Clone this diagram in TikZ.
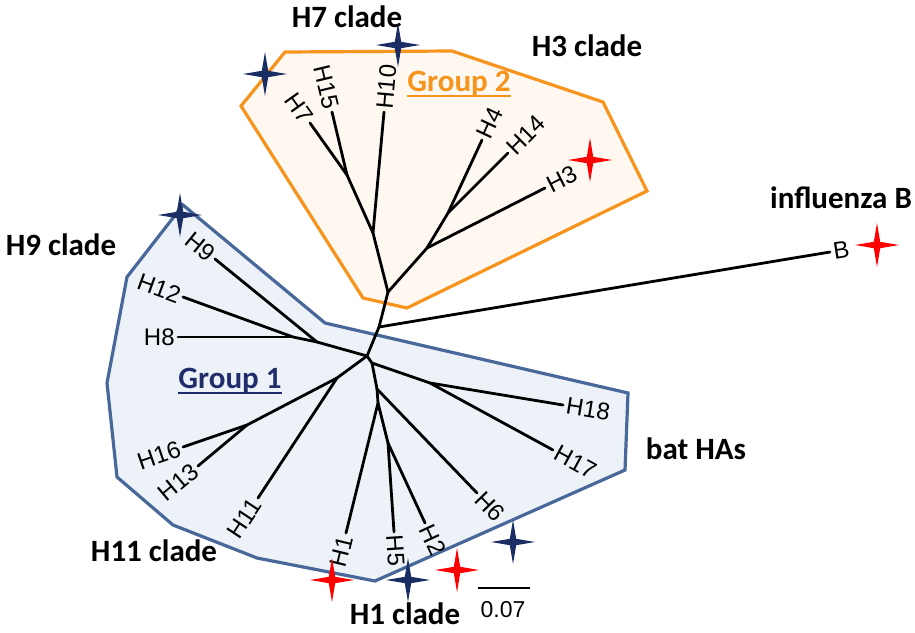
\documentclass[tikz,border=0pt]{standalone}
\usepackage{fontspec}
\setmainfont{Liberation Sans}
\newfontfamily\cladefont{Carlito}
\usetikzlibrary{positioning}
\definecolor{grp1}{HTML}{48689A}
\definecolor{grp1fill}{HTML}{EDF2F8}
\definecolor{grp1text}{HTML}{1F2D6B}
\definecolor{grp2}{HTML}{F7941D}
\definecolor{grp2fill}{HTML}{FEF8F1}
\definecolor{starblue}{HTML}{1B2E63}
\definecolor{starred}{HTML}{FF0000}

\tikzset{
  branch/.style={line width=1.4pt, line cap=round},
  hull/.style={line width=1.6pt, line join=miter},
  leaf/.style={font=\fontsize{12}{14}\selectfont, inner sep=1.5pt},
  clade/.style={font=\cladefont\bfseries\fontsize{15.5}{18}\selectfont, inner sep=0pt},
  underl/.style={line width=1.1pt},
  fourstar/.pic={\fill (0,-22) -- (3.2,-3.2) -- (22,0) -- (3.2,3.2) -- (0,22) -- (-3.2,3.2) -- (-22,0) -- (-3.2,-3.2) -- cycle;}
}

\begin{document}
\begin{tikzpicture}[x=0.5pt, y=-0.5pt]
  \useasboundingbox (0,0) rectangle (915,632);

  % group hulls
  \filldraw[hull, draw=grp2, fill=grp2fill] (285,52) -- (452,51) -- (603,102) -- (647,191)
    -- (407,308) -- (363,298) -- (241,106) -- cycle;
  \filldraw[hull, draw=grp1, fill=grp1fill] (183,205) -- (325,323) -- (628,393) -- (625,470)
    -- (375,581) -- (257,558) -- (173,525) -- (117,477) -- (107,383) -- (127,277) -- cycle;

  % internal nodes
  \coordinate (g2) at (388,292);
  \coordinate (g2a) at (373,233);
  \coordinate (g2b) at (347,175);
  \coordinate (g2c) at (427,248);
  \coordinate (g2d) at (448,213);
  \coordinate (bj) at (379,327);
  \coordinate (g1) at (367,356);
  \coordinate (g1a) at (317,342);
  \coordinate (g1b) at (293,337);
  \coordinate (g1c) at (337,378);
  \coordinate (g1d) at (247,425);
  \coordinate (g1e) at (372,363);
  \coordinate (g1f) at (430,383);
  \coordinate (g1g) at (377,389);
  \coordinate (g1h) at (378,403);
  \coordinate (g1i) at (388,443);

  % tips
  \coordinate (tH7) at (310,123);
  \coordinate (tH15) at (332,112);
  \coordinate (tH10) at (384,112);
  \coordinate (tH4) at (482,140);
  \coordinate (tH14) at (508,153);
  \coordinate (tH3) at (545,188);
  \coordinate (tB) at (830,252);
  \coordinate (tH9) at (215,259);
  \coordinate (tH12) at (183,297);
  \coordinate (tH8) at (178,337);
  \coordinate (tH11) at (258,498);
  \coordinate (tH16) at (183,447);
  \coordinate (tH13) at (198,466);
  \coordinate (tH18) at (563,405);
  \coordinate (tH17) at (553,450);
  \coordinate (tH6) at (477,493);
  \coordinate (tH1) at (346,533);
  \coordinate (tH5) at (394,532);
  \coordinate (tH2) at (425,523);

  % branches
  \draw[branch] (g2) -- (bj) -- (g1);
  \draw[branch] (bj) -- (tB);
  \draw[branch] (g2) -- (g2a) -- (g2b) -- (tH7);
  \draw[branch] (g2b) -- (tH15);
  \draw[branch] (g2a) -- (tH10);
  \draw[branch] (g2) -- (g2c) -- (g2d) -- (tH4);
  \draw[branch] (g2d) -- (tH14);
  \draw[branch] (g2c) -- (tH3);
  \draw[branch] (g1) -- (g1a) -- (tH9);
  \draw[branch] (g1a) -- (g1b) -- (tH12);
  \draw[branch] (g1b) -- (tH8);
  \draw[branch] (g1) -- (g1c) -- (tH11);
  \draw[branch] (g1c) -- (g1d) -- (tH16);
  \draw[branch] (g1d) -- (tH13);
  \draw[branch] (g1) -- (g1e) -- (g1f) -- (tH18);
  \draw[branch] (g1f) -- (tH17);
  \draw[branch] (g1e) -- (g1g) -- (tH6);
  \draw[branch] (g1g) -- (g1h) -- (tH1);
  \draw[branch] (g1h) -- (g1i) -- (tH5);
  \draw[branch] (g1i) -- (tH2);

  % leaf labels
  \node[leaf, anchor=east, rotate=-54.6] (lH7) at (tH7) {H7};
  \node[leaf, anchor=east, rotate=-76.6] (lH15) at (tH15) {H15};
  \node[leaf, anchor=west, rotate=84.8] (lH10) at (tH10) {H10};
  \node[leaf, anchor=west, rotate=65] (lH4) at (tH4) {H4};
  \node[leaf, anchor=west, rotate=45] (lH14) at (tH14) {H14};
  \node[leaf, anchor=west, rotate=26.9] (lH3) at (tH3) {H3};
  \node[leaf, anchor=west, rotate=9] (lB) at (tB) {B};
  \node[leaf, anchor=east, rotate=-39.1] (lH9) at (tH9) {H9};
  \node[leaf, anchor=east, rotate=-20] (lH12) at (tH12) {H12};
  \node[leaf, anchor=east] (lH8) at (tH8) {H8};
  \node[leaf, anchor=east, rotate=56.6] (lH11) at (tH11) {H11};
  \node[leaf, anchor=east, rotate=19] (lH16) at (tH16) {H16};
  \node[leaf, anchor=east, rotate=40] (lH13) at (tH13) {H13};
  \node[leaf, anchor=west, rotate=-9.4] (lH18) at (tH18) {H18};
  \node[leaf, anchor=west, rotate=-28.6] (lH17) at (tH17) {H17};
  \node[leaf, anchor=west, rotate=-46] (lH6) at (tH6) {H6};
  \node[leaf, anchor=east, rotate=76.2] (lH1) at (tH1) {H1};
  \node[leaf, anchor=west, rotate=-86.1] (lH5) at (tH5) {H5};
  \node[leaf, anchor=west, rotate=-65.2] (lH2) at (tH2) {H2};

  % group and clade names
  \node[clade, text=grp2] (grp2) at (459,84) {Group 2};
  \draw[underl, grp2] ([yshift=-2.2pt]grp2.base west) -- ([yshift=-2.2pt]grp2.base east);
  \node[clade, text=grp1text] (grp1) at (230,381) {Group 1};
  \draw[underl, grp1text] ([yshift=-2.2pt]grp1.base west) -- ([yshift=-2.2pt]grp1.base east);
  \node[clade] (h7c) at (347,17) {H7 clade};
  \node[clade] (h3c) at (587,46) {H3 clade};
  \node[clade] (infb) at (841,198) {influenza B};
  \node[clade] (h9c) at (61,245) {H9 clade};
  \node[clade] (batc) at (696,449) {bat HAs};
  \node[clade] (h11c) at (154,551) {H11 clade};
  \node[clade] (h1c) at (405,614) {H1 clade};

  % scale bar
  \coordinate (sb1) at (478,588);
  \coordinate (sb2) at (530,588);
  \draw[branch, line cap=butt] (sb1) -- (sb2);
  \node[leaf, font=\fontsize{11.5}{14}\selectfont] (sbl) at (503,610) {0.07};

  % stars
  \pic[starblue] at (265,74) {fourstar};
  \pic[starblue] at (398,45) {fourstar};
  \pic[starblue] at (180,215) {fourstar};
  \pic[starblue] at (408,580) {fourstar};
  \pic[starblue] at (513,542) {fourstar};
  \pic[starred] at (590,160) {fourstar};
  \pic[starred] at (877,245) {fourstar};
  \pic[starred] at (332,580) {fourstar};
  \pic[starred] at (457,570) {fourstar};
\end{tikzpicture}
\end{document}
